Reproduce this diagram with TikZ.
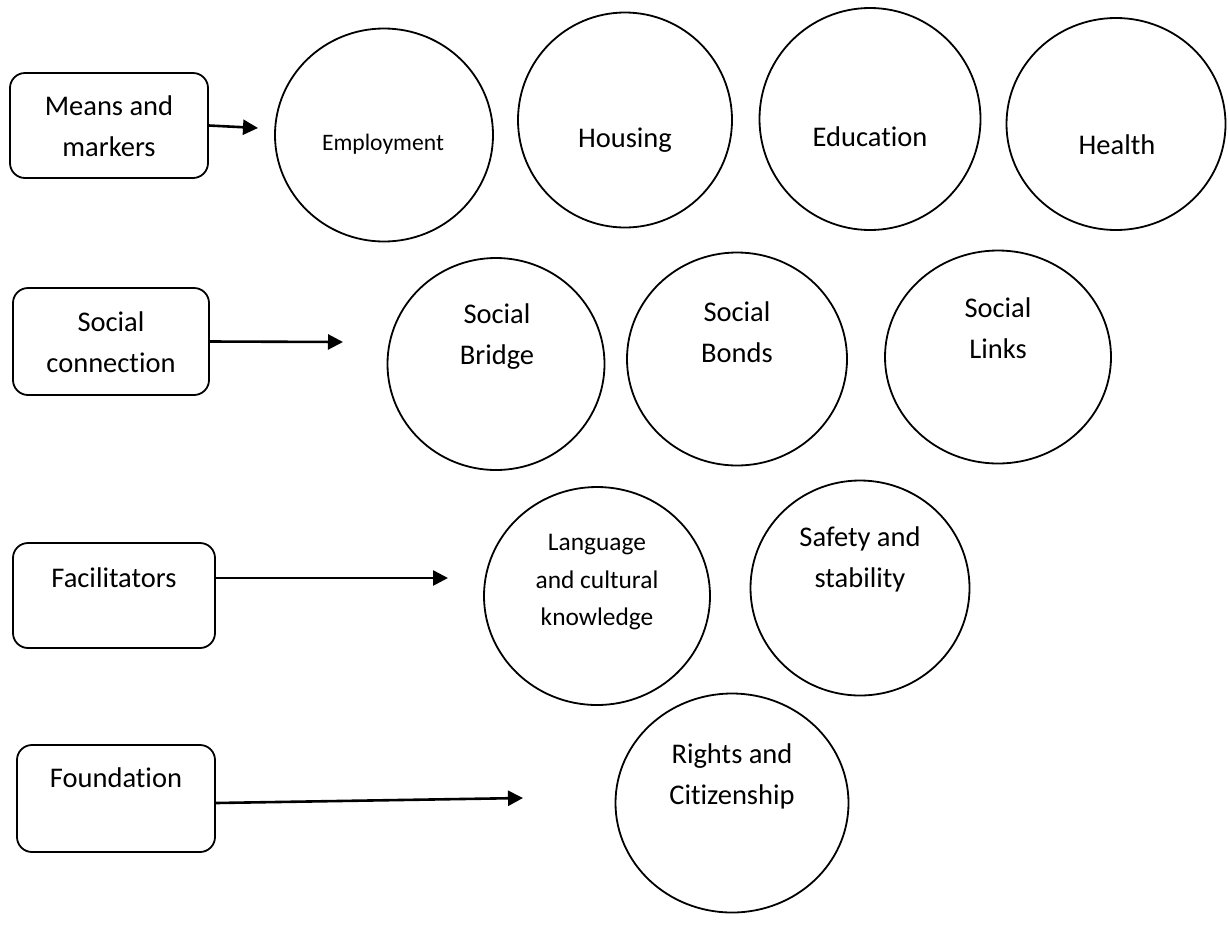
\documentclass[tikz,border=0pt]{standalone}
\usepackage{fontspec}
\setmainfont{Carlito}[Ligatures=NoCommon]
\usetikzlibrary{arrows.meta, shapes.geometric}

\begin{document}
\begin{tikzpicture}[x=1pt, y=-1pt,
        tab/.style = {draw, rounded corners=15pt, line width=1.8pt},
        ring/.style = {draw, ellipse, line width=1.8pt, inner sep=0pt},
        txt/.style = {align=center, inner sep=0pt, font=\fontsize{28.5}{41}\selectfont},
        arr/.style = {line width=2.6pt, -{Triangle[length=15pt,width=15pt]}}]
        \useasboundingbox (0,0) rectangle (1228,927);
        % left column
        \node[tab, minimum width=198pt, minimum height=105pt] at (109,125.5) (means) {};
        \node[tab, minimum width=196pt, minimum height=107pt] at (111,341.5) (social) {};
        \node[tab, minimum width=202pt, minimum height=105pt] at (114,595.5) (fac) {};
        \node[tab, minimum width=198pt, minimum height=107pt] at (116,798.5) (found) {};
        \node[txt] at (109,126) (meansT) {Means and\\markers};
        \node[txt] at (111,342) (socialT) {Social\\connection};
        \node[txt] at (114,578) (facT) {Facilitators};
        \node[txt] at (116,778) (foundT) {Foundation};
        % means and markers
        \node[ring, minimum width=218pt, minimum height=213pt] at (384,135) (emp) {};
        \node[ring, minimum width=214pt, minimum height=215pt] at (625,120) (hous) {};
        \node[ring, minimum width=221pt, minimum height=222pt] at (870,119) (edu) {};
        \node[ring, minimum width=219pt, minimum height=212pt] at (1116,124) (health) {};
        \node[txt, font=\fontsize{23.6}{30}\selectfont] at (383,144) (empT) {Employment};
        \node[txt] at (625,140) (housT) {Housing};
        \node[txt] at (870,137) (eduT) {Education};
        \node[txt] at (1117,145) (healthT) {Health};
        % social connection
        \node[ring, minimum width=217pt, minimum height=212pt] at (496,364) (bridge) {};
        \node[ring, minimum width=220pt, minimum height=213pt] at (737,359) (bonds) {};
        \node[ring, minimum width=226pt, minimum height=213pt] at (998,357) (links) {};
        \node[txt] at (497,337) (bridgeT) {Social\\Bridge};
        \node[txt] at (737,332) (bondsT) {Social\\Bonds};
        \node[txt] at (998,328) (linksT) {Social\\Links};
        % facilitators
        \node[ring, minimum width=226pt, minimum height=218pt] at (597,596) (lang) {};
        \node[ring, minimum width=219pt, minimum height=215pt] at (860,588) (safe) {};
        \node[txt, font=\fontsize{25.4}{37.5}\selectfont] at (597,582.5) (langT) {Language\\and cultural\\knowledge};
        \node[txt] at (860,559) (safeT) {Safety and\\stability};
        % foundation
        \node[ring, minimum width=233pt, minimum height=219pt] at (732,803) (rights) {};
        \node[txt] at (732,776) (rightsT) {Rights and\\Citizenship};
        % arrows
        \coordinate (meansEnd) at (258,128);
        \coordinate (socialEnd) at (343,342);
        \coordinate (facEnd) at (448,578);
        \coordinate (foundEnd) at (523,798);
        \draw[arr] (means.east) -- (meansEnd);
        \draw[arr] (social.east) -- (socialEnd);
        \draw[arr] (fac.east |- facEnd) -- (facEnd);
        \draw[arr] ([yshift=-4.5pt]found.east) -- (foundEnd);
        \end{tikzpicture}
\end{document}
